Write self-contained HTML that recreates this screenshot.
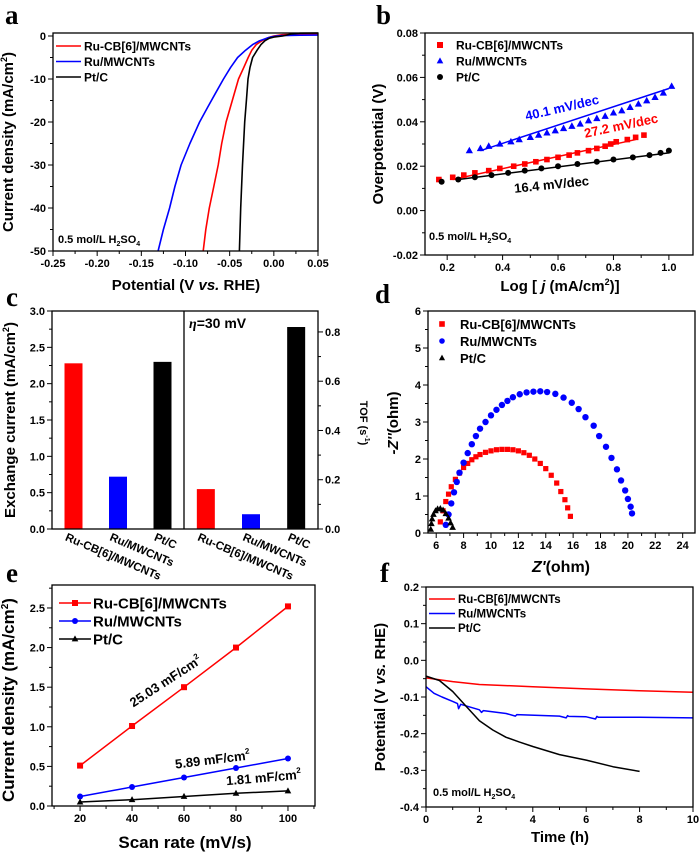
<!DOCTYPE html>
<html><head><meta charset="utf-8"><style>
html,body{margin:0;padding:0;background:#fff;}
svg{display:block;font-family:"Liberation Sans",Arial,sans-serif;font-weight:bold;}
</style></head><body>
<svg id="fig" width="700" height="853" viewBox="0 0 700 853"></svg>
<script>
// ---------- data ----------
// panel a (LSV)
const aRedX=[0.05,0.03,0.01,0.0,-0.005,-0.01,-0.015,-0.02,-0.025,-0.029,-0.034,-0.04,-0.047,-0.054,-0.059,-0.063,-0.068,-0.073,-0.077,-0.080];
const aRedY=[0.5,0.45,0.3,0,-0.3,-0.7,-1.3,-2,-3.3,-5,-7.3,-10,-15,-20,-25,-30,-35,-40,-45,-50];
const aBlueX=[0.05,0.03,0.01,0.003,-0.003,-0.008,-0.016,-0.024,-0.032,-0.041,-0.049,-0.057,-0.066,-0.075,-0.084,-0.095,-0.105,-0.112,-0.118,-0.125,-0.131];
const aBlueY=[0.2,0.18,0.1,0,-0.2,-0.5,-1.1,-2,-3.3,-5,-7.3,-10,-13.3,-16.6,-20,-25,-30,-35,-40,-45,-50];
const aBlackX=[0.05,0.03,0.02,0.01,0.0,-0.005,-0.01,-0.0145,-0.019,-0.024,-0.027,-0.0292,-0.031,-0.033,-0.0355,-0.0375,-0.039];
const aBlackY=[0.7,0.65,0.5,0,-0.25,-0.5,-1.1,-2,-3.3,-5,-7.3,-10,-15,-20,-30,-40,-50];
// panel b (Tafel)
const bBlueX=[0.28,0.32,0.35,0.39,0.43,0.46,0.50,0.53,0.56,0.59,0.62,0.65,0.68,0.71,0.74,0.77,0.80,0.83,0.86,0.89,0.92,0.95,0.98,1.01];
const bBlueY=[0.027,0.028,0.029,0.030,0.031,0.032,0.033,0.034,0.035,0.036,0.037,0.038,0.039,0.0405,0.0415,0.0425,0.044,0.045,0.0465,0.048,0.0495,0.051,0.053,0.056];
const bRedX=[0.17,0.22,0.26,0.30,0.35,0.39,0.44,0.48,0.52,0.56,0.60,0.64,0.67,0.71,0.74,0.77,0.79,0.81,0.85,0.88,0.91];
const bRedY=[0.014,0.015,0.016,0.017,0.018,0.019,0.020,0.021,0.022,0.023,0.024,0.025,0.026,0.027,0.028,0.029,0.030,0.031,0.032,0.033,0.034];
const bBlackX=[0.18,0.24,0.30,0.36,0.42,0.48,0.54,0.60,0.67,0.74,0.80,0.87,0.93,0.97,1.00];
const bBlackY=[0.013,0.014,0.015,0.016,0.017,0.018,0.019,0.020,0.021,0.022,0.023,0.024,0.025,0.026,0.027];
const bFitBlue=[[0.32,0.027],[1.0,0.055]];
const bFitRed=[[0.22,0.014],[0.88,0.032]];
const bFitBlack=[[0.24,0.014],[1.0,0.026]];
// panel c (bars)
const cCategories=["Ru-CB[6]/MWCNTs","Ru/MWCNTs","Pt/C"];
const cExchange=[2.28,0.72,2.30];
const cTOF=[0.162,0.06,0.82];
const cColors=["#ff0000","#0000ff","#000000"];
// panel d (Nyquist)
const dRedX=[6.3,6.5,6.7,6.9,7.1,7.4,7.7,8.0,8.3,8.6,8.9,9.2,9.6,10.0,10.4,10.8,11.2,11.6,12.0,12.4,12.8,13.2,13.6,14.0,14.4,14.8,15.1,15.4,15.6,15.8];
const dRedY=[0.3,0.6,0.85,1.05,1.25,1.45,1.62,1.77,1.88,1.98,2.06,2.12,2.18,2.22,2.25,2.26,2.26,2.25,2.22,2.17,2.1,2.0,1.88,1.74,1.56,1.35,1.12,0.9,0.68,0.45];
const dBlueX=[6.7,6.9,7.1,7.3,7.5,7.7,8.0,8.3,8.6,8.9,9.2,9.6,10.0,10.4,10.8,11.2,11.6,12.1,12.6,13.1,13.6,14.1,14.7,15.3,15.9,16.4,16.9,17.5,17.9,18.4,18.8,19.2,19.5,19.8,20.0,20.2,20.3];
const dBlueY=[0.22,0.5,0.8,1.1,1.38,1.63,1.9,2.16,2.4,2.62,2.82,3.0,3.18,3.33,3.46,3.57,3.67,3.75,3.8,3.82,3.83,3.81,3.76,3.66,3.52,3.35,3.13,2.9,2.62,2.33,2.03,1.72,1.42,1.15,0.92,0.71,0.53];
const dBlackX=[5.6,5.65,5.7,5.8,5.95,6.1,6.3,6.5,6.7,6.9,7.05,7.2];
const dBlackY=[0.1,0.25,0.38,0.5,0.6,0.65,0.66,0.62,0.52,0.4,0.27,0.15];
// panel e (Cdl)
const eScan=[20,40,60,80,100];
const eRed=[0.51,1.01,1.50,2.00,2.52];
const eBlue=[0.12,0.24,0.36,0.48,0.60];
const eBlack=[0.05,0.08,0.12,0.16,0.19];
// panel f (stability)
const fRedT=[0,0.5,1,2,3,4,6,8,10];
const fRedV=[-0.048,-0.053,-0.058,-0.066,-0.069,-0.072,-0.078,-0.083,-0.087];
const fBlueT=[0,0.3,0.6,1,1.18,1.22,1.3,2,2.08,2.15,3,3.35,3.4,5,5.25,5.3,5.35,6,6.35,6.4,6.45,8,10];
const fBlueV=[-0.072,-0.09,-0.1,-0.112,-0.118,-0.132,-0.12,-0.135,-0.142,-0.137,-0.145,-0.152,-0.148,-0.152,-0.157,-0.151,-0.153,-0.154,-0.16,-0.153,-0.155,-0.155,-0.157];
const fBlackT=[0,0.5,1,1.5,2,2.5,3,3.5,4,5,6,7,8];
const fBlackV=[-0.043,-0.055,-0.085,-0.125,-0.165,-0.19,-0.21,-0.223,-0.235,-0.257,-0.272,-0.29,-0.303];

// ---------- helpers ----------
const NS='http://www.w3.org/2000/svg';
const svg=document.getElementById('fig');
function mk(tag,attrs,parent){const e=document.createElementNS(NS,tag);for(const k in attrs)e.setAttribute(k,attrs[k]);(parent||svg).appendChild(e);return e;}
function txt(s,x,y,attrs,parent){const e=mk('text',Object.assign({x:x,y:y},attrs||{}),parent);e.textContent=s;return e;}
function panel(x0,x1,y0,y1,xmin,xmax,ymin,ymax){
  return {x0,x1,y0,y1,sx:v=>x0+(v-xmin)/(xmax-xmin)*(x1-x0),sy:v=>y1-(v-ymin)/(ymax-ymin)*(y1-y0)};
}
function frame(P,g){const r=mk('rect',{x:P.x0,y:P.y0,width:P.x1-P.x0,height:P.y1-P.y0,fill:'none',stroke:'#000','stroke-width':1.3},g);
  }
function xTicks(P,g,vals,labels,minor){
  minor.forEach(v=>{const l=mk('line',{x1:P.sx(v),x2:P.sx(v),y1:P.y1,y2:P.y1+3,stroke:'#000'},g);});
  vals.forEach((v,i)=>{const l=mk('line',{x1:P.sx(v),x2:P.sx(v),y1:P.y1,y2:P.y1+5,stroke:'#000'},g);
    const t=txt(labels[i],P.sx(v),P.y1+16,{'font-size':11,'text-anchor':'middle'},g);});
}
function yTicks(P,g,vals,labels,minor,right,sy){
  sy=sy||P.sy;const bx=right?P.x1:P.x0,d=right?1:-1;
  minor.forEach(v=>{const l=mk('line',{x1:bx,x2:bx+3*d,y1:sy(v),y2:sy(v),stroke:'#000'},g);});
  vals.forEach((v,i)=>{const l=mk('line',{x1:bx,x2:bx+5*d,y1:sy(v),y2:sy(v),stroke:'#000'},g);
    const t=txt(labels[i],bx+7*d,sy(v)+4,{'font-size':11,'text-anchor':right?'start':'end'},g);});
}
function poly(P,g,xs,ys,color,w){const pts=xs.map((x,i)=>P.sx(x).toFixed(1)+','+P.sy(ys[i]).toFixed(1)).join(' ');
  return mk('polyline',{points:pts,fill:'none',stroke:color,'stroke-width':w||1.5,'stroke-linejoin':'round'},g);}
function marker(type,x,y,color,s,g){
  if(type==='sq')return mk('rect',{x:x-s,y:y-s,width:2*s,height:2*s,fill:color},g);
  if(type==='ci')return mk('circle',{cx:x,cy:y,r:s,fill:color},g);
  return mk('polygon',{points:`${x},${y-s*1.2} ${x-s*1.1},${y+s*0.8} ${x+s*1.1},${y+s*0.8}`,fill:color},g);
}
function range(a,b,s){const r=[];for(let v=a;v<=b+1e-9;v+=s)r.push(+v.toFixed(4));return r;}
function letter(s,x,y){const t=txt(s,x,y,{'font-size':27,'font-family':'"Liberation Serif",serif','font-weight':'bold'});}
function ytitle(s,x,y,g,size){const t=txt('',x,y,{'font-size':size||14,'text-anchor':'middle',transform:`rotate(-90 ${x} ${y})`},g);t.innerHTML=s;return t;}
function xtitle(s,x,y,g,size){const t=txt('',x,y,{'font-size':size||15,'text-anchor':'middle'},g);t.innerHTML=s;return t;}
function h2so4(x,y,g){const t=txt('',x,y,{'font-size':11},g);t.innerHTML='0.5 mol/L H<tspan font-size="7" dy="3">2</tspan><tspan dy="-3">SO</tspan><tspan font-size="7" dy="3">4</tspan>';}
const names=["Ru-CB[6]/MWCNTs","Ru/MWCNTs","Pt/C"];
const cols=["#ff0000","#0000ff","#000000"];

// ---------- panel a ----------
let g=mk('g');
let P=panel(53,318,33,251,-0.25,0.05,-50,0.7);
[[aRedX,aRedY,cols[0]],[aBlueX,aBlueY,cols[1]],[aBlackX,aBlackY,cols[2]]].forEach((s,i)=>{const p=poly(P,g,s[0],s[1],s[2],1.6);});
frame(P,g);
xTicks(P,g,range(-0.25,0.05,0.05),["-0.25","-0.20","-0.15","-0.10","-0.05","0.00","0.05"],range(-0.225,0.05,0.05));
yTicks(P,g,[0,-10,-20,-30,-40,-50],["0","-10","-20","-30","-40","-50"],[-5,-15,-25,-35,-45]);
names.forEach((n,i)=>{const y=46+i*15.5;const l=mk('line',{x1:56,x2:81,y1:y,y2:y,stroke:cols[i],'stroke-width':1.6},g);
  const t=txt(n,84,y+4.5,{'font-size':12},g);});
h2so4(58,243,g);
ytitle('Current density (mA/cm<tspan font-size="9" dy="-6">2</tspan><tspan dy="6">)</tspan>',13,142,g,15);
xtitle('Potential (V <tspan font-style="italic">vs.</tspan> RHE)',186,290,g,15);
letter('a',5,24);

// ---------- panel b ----------
g=mk('g');
P=panel(425,693,33,255,0.12,1.087,-0.02,0.08);
[[bFitBlue,cols[1]],[bFitRed,cols[0]],[bFitBlack,cols[2]]].forEach(f=>{const l=mk('line',{x1:P.sx(f[0][0][0]),y1:P.sy(f[0][0][1]),x2:P.sx(f[0][1][0]),y2:P.sy(f[0][1][1]),stroke:f[1],'stroke-width':1.5},g);});
bBlueX.forEach((x,i)=>{const m=marker('tr',P.sx(x),P.sy(bBlueY[i]),cols[1],3.3,g);});
bRedX.forEach((x,i)=>{const m=marker('sq',P.sx(x),P.sy(bRedY[i]),cols[0],2.8,g);});
bBlackX.forEach((x,i)=>{const m=marker('ci',P.sx(x),P.sy(bBlackY[i]),cols[2],3,g);});
frame(P,g);
xTicks(P,g,range(0.2,1.0,0.2),["0.2","0.4","0.6","0.8","1.0"],range(0.3,1.0,0.2));
yTicks(P,g,range(-0.02,0.08,0.02),["-0.02","0.00","0.02","0.04","0.06","0.08"],range(-0.01,0.08,0.02));
names.forEach((n,i)=>{const y=45+i*16;const m=marker(['sq','tr','ci'][i],440,y,cols[i],3,g);
  const t=txt(n,456,y+4.5,{'font-size':12},g);});
let t=txt('40.1 mV/dec',563,112,{'font-size':13,fill:cols[1],'text-anchor':'middle',transform:'rotate(-13 563 112)'},g);
t=txt('27.2 mV/dec',622,130,{'font-size':13,fill:cols[0],'text-anchor':'middle',transform:'rotate(-12 622 130)'},g);
t=txt('16.4 mV/dec',552,189,{'font-size':13,'text-anchor':'middle',transform:'rotate(-6 552 189)'},g);
h2so4(429,240,g);
ytitle('Overpotential (V)',383,144,g,15);
xtitle('Log [ <tspan font-style="italic">j</tspan> (mA/cm<tspan font-size="9" dy="-6">2</tspan><tspan dy="6">)]</tspan>',560,291,g,15);
letter('b',376,24);

// ---------- panel c ----------
g=mk('g');
P=panel(52,318,311,529,0,1,0,3.0);
const Pl=panel(52,184,311,529,0,3,0,3.0), Pr=panel(184,318,311,529,0,3,0,0.885);
const barW=18;
cExchange.forEach((v,i)=>{const cx=Pl.sx(i+0.5)+ (i-1)*0.5;const r=mk('rect',{x:cx-barW/2,y:Pl.sy(v),width:barW,height:Pl.sy(0)-Pl.sy(v),fill:cColors[i]},g);
  const l=txt(cCategories[i],cx-9,540,{'font-size':11.5,transform:`rotate(23 ${cx-9} 540)`},g);});
cTOF.forEach((v,i)=>{const cx=Pr.sx(i+0.5)+(i-1)*0.5;const r=mk('rect',{x:cx-barW/2,y:Pr.sy(v),width:barW,height:Pr.sy(0)-Pr.sy(v),fill:cColors[i]},g);
  const l=txt(cCategories[i],cx-9,540,{'font-size':11.5,transform:`rotate(23 ${cx-9} 540)`},g);});
frame(P,g);
let dv=mk('line',{x1:184,x2:184,y1:311,y2:529,stroke:'#000','stroke-width':1.3},g);
yTicks(P,g,range(0,3,0.5),["0.0","0.5","1.0","1.5","2.0","2.5","3.0"],range(0.25,3,0.5));
yTicks(Pr,g,range(0,0.8,0.2),["0.0","0.2","0.4","0.6","0.8"],range(0.1,0.8,0.2),true);
t=txt('',189,328,{'font-size':14},g);t.innerHTML='<tspan font-style="italic" font-family="Liberation Serif,serif">η</tspan>=30 mV';
ytitle('Exchange current (mA/cm<tspan font-size="9" dy="-6">2</tspan><tspan dy="6">)</tspan>',15,420,g,15);
t=txt('',360,423,{'font-size':11,'text-anchor':'middle',transform:'rotate(90 360 423)'},g);t.innerHTML='TOF (s<tspan font-size="7" dy="-5">-1</tspan><tspan dy="5">)</tspan>';
letter('c',6,306);

// ---------- panel d ----------
g=mk('g');
P=panel(428,695,311,533,5.4,24.9,0,6);
dRedX.forEach((x,i)=>{const m=marker('sq',P.sx(x),P.sy(dRedY[i]),cols[0],2.6,g);});
dBlueX.forEach((x,i)=>{const m=marker('ci',P.sx(x),P.sy(dBlueY[i]),cols[1],3.2,g);});
dBlackX.forEach((x,i)=>{const m=marker('tr',P.sx(x),P.sy(dBlackY[i]),cols[2],3,g);});
frame(P,g);
xTicks(P,g,range(6,24,2),["6","8","10","12","14","16","18","20","22","24"],range(7,24,2));
yTicks(P,g,range(0,6,1),["0","1","2","3","4","5","6"],range(0.5,6,1));
names.forEach((n,i)=>{const y=324+i*17;const m=marker(['sq','ci','tr'][i],442,y,cols[i],2.8,g);
  const t2=txt(n,460,y+5,{'font-size':13},g);});
ytitle('<tspan font-style="italic">-Z\'\'</tspan>(ohm)',398,423,g,15);
xtitle('<tspan font-style="italic">Z\'</tspan>(ohm)',561,572,g,16);
letter('d',375,303);

// ---------- panel e ----------
g=mk('g');
P=panel(52,315,585,806,9.2,110.4,0,2.79);
[[eRed,'sq'],[eBlue,'ci'],[eBlack,'tr']].forEach((s,k)=>{const p=poly(P,g,eScan,s[0],cols[k],1.5);
  eScan.forEach((x,i)=>{const m=marker(s[1],P.sx(x),P.sy(s[0][i]),cols[k],3,g);});});
frame(P,g);
xTicks(P,g,eScan,["20","40","60","80","100"],[10,30,50,70,90,110]);
yTicks(P,g,range(0,2.5,0.5),["0.0","0.5","1.0","1.5","2.0","2.5"],range(0.25,2.75,0.5));
names.forEach((n,i)=>{const y=603+i*18;const l=mk('line',{x1:59,x2:91,y1:y,y2:y,stroke:cols[i],'stroke-width':1.5},g);
  const m=marker(['sq','ci','tr'][i],75,y,cols[i],3,g);
  const t2=txt(n,93,y+5.5,{'font-size':15},g);});
t=txt('',168,685,{'font-size':13,'text-anchor':'middle',transform:'rotate(-33 168 685)'},g);t.innerHTML='25.03 mF/cm<tspan font-size="8" dy="-6">2</tspan>';
t=txt('',213,764,{'font-size':13,'text-anchor':'middle',transform:'rotate(-7 213 764)'},g);t.innerHTML='5.89 mF/cm<tspan font-size="8" dy="-6">2</tspan>';
t=txt('',264,782,{'font-size':13,'text-anchor':'middle',transform:'rotate(-5 264 782)'},g);t.innerHTML='1.81 mF/cm<tspan font-size="8" dy="-6">2</tspan>';
ytitle('Current density (mA/cm<tspan font-size="10" dy="-6">2</tspan><tspan dy="6">)</tspan>',14,700,g,17);
xtitle('Scan rate (mV/s)',185,848,g,17);
letter('e',6,582);

// ---------- panel f ----------
g=mk('g');
P=panel(426,693,587,807,0,10,-0.4,0.2);
[[fRedT,fRedV],[fBlueT,fBlueV],[fBlackT,fBlackV]].forEach((s,k)=>{const p=poly(P,g,s[0],s[1],cols[k],1.5);});
frame(P,g);
xTicks(P,g,range(0,10,2),["0","2","4","6","8","10"],range(1,10,2));
yTicks(P,g,range(-0.4,0.2,0.1),["-0.4","-0.3","-0.2","-0.1","0.0","0.1","0.2"],range(-0.35,0.2,0.1));
names.forEach((n,i)=>{const y=599+i*14.5;const l=mk('line',{x1:429,x2:455,y1:y,y2:y,stroke:cols[i],'stroke-width':1.6},g);
  const t2=txt(n,458,y+4,{'font-size':11.5},g);});
h2so4(433,796,g);
ytitle('Potential (V <tspan font-style="italic">vs.</tspan> RHE)',385,697,g,15);
xtitle('Time (h)',560,842,g,15);
letter('f',380,582);
</script>
</body></html>
